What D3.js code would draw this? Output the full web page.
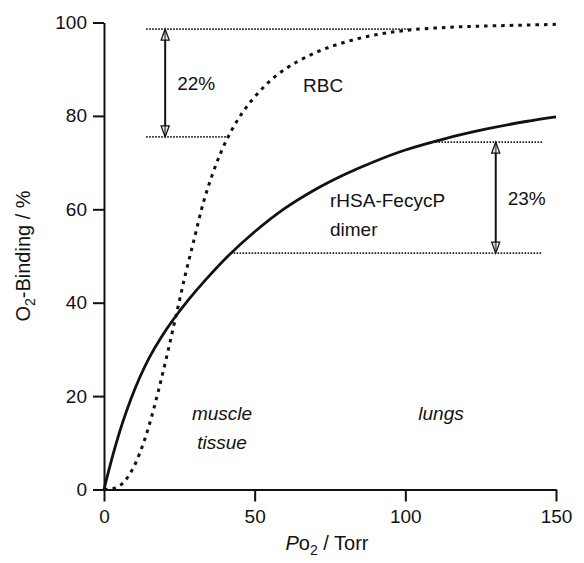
<!DOCTYPE html>
<html>
<head>
<meta charset="utf-8">
<script src="https://cdn.jsdelivr.net/npm/d3@7"></script>
<style>
  body { margin: 0; background: #fff; }
  svg text { font-family: "Liberation Sans", Arial, Helvetica, sans-serif; fill: #111; }
</style>
</head>
<body>
<div id="chart"></div>
<script>
// Corbes de saturació d'O2 (llegides de la figura)
const rbcPo2 = [0, 3, 6, 9, 12, 15, 18, 21, 24, 27, 30, 33, 36, 39, 42, 45, 48, 52, 56, 62, 70, 78, 88, 100, 115, 130, 150];
const rbcSat = [0, 0.2, 1.2, 3.8, 8, 13.8, 21, 29, 37.5, 46, 53.8, 61.5, 67.5, 72.5, 76.5, 79.8, 82.5, 85.5, 88, 90.8, 93.5, 95.4, 97.1, 98.3, 99, 99.3, 99.6];

const hsaPo2 = [0, 3, 6, 9, 12, 15, 19, 23, 28, 34, 41, 50, 60, 70, 80, 90, 100, 113, 127, 140, 150];
const hsaSat = [0, 7.5, 14, 19.5, 24.2, 28.2, 32.6, 36.4, 40.6, 45.1, 49.9, 55.2, 60.2, 64.2, 67.5, 70.3, 72.7, 75.1, 77.2, 78.8, 79.8];

const xTicks = [0, 50, 100, 150];
const yTicks = [0, 20, 40, 60, 80, 100];

// línies de referència: [x0, x1, y]
const refLines = [
  [14, 102, 98.6],
  [14, 41, 75.5],
  [110, 145.5, 74.4],
  [42, 145.5, 50.6]
];
// fletxes: [x, yTop, yBottom, etiqueta]
const arrows = [
  [20.3, 98.6, 75.5, '22%'],
  [130, 74.4, 50.6, '23%']
];

const width = 584, height = 563;
const svg = d3.select('#chart').append('svg')
  .attr('width', width)
  .attr('height', height);

const x = d3.scaleLinear().domain([0, 150]).range([104, 556]);
const y = d3.scaleLinear().domain([0, 100]).range([489.5, 22.5]);

const fontSize = 19;

// Eixos
const xAxis = svg.append('g')
  .attr('transform', `translate(0,${y(0)})`)
  .call(d3.axisBottom(x).tickValues(xTicks).tickSize(12).tickSizeOuter(0).tickPadding(8));
const yAxis = svg.append('g')
  .attr('transform', `translate(${x(0)},0)`)
  .call(d3.axisLeft(y).tickValues(yTicks).tickSize(11).tickSizeOuter(0).tickPadding(6));

[xAxis, yAxis].forEach(g => {
  g.selectAll('path, line').attr('stroke', '#111').attr('stroke-width', 2);
  g.selectAll('text')
    .style('font-size', fontSize + 'px')
    .attr('fill', '#111');
});

// Línies de referència puntejades
svg.selectAll('.ref')
  .data(refLines)
  .enter()
  .append('line')
  .attr('x1', d => x(d[0]))
  .attr('x2', d => x(d[1]))
  .attr('y1', d => y(d[2]))
  .attr('y2', d => y(d[2]))
  .attr('stroke', '#222')
  .attr('stroke-width', 1.8)
  .attr('stroke-dasharray', '1.6,1.4');

// Corbes
const line = d3.line().curve(d3.curveCatmullRom.alpha(0.5));

svg.append('path')
  .attr('d', line(hsaPo2.map((p, i) => [x(p), y(hsaSat[i])])))
  .attr('fill', 'none')
  .attr('stroke', '#111')
  .attr('stroke-width', 2.8);

svg.append('path')
  .attr('d', line(rbcPo2.map((p, i) => [x(p), y(rbcSat[i])])))
  .attr('fill', 'none')
  .attr('stroke', '#111')
  .attr('stroke-width', 3)
  .attr('stroke-dasharray', '3.5,5');

// Fletxes de doble punta
arrows.forEach(a => {
  const ax = x(a[0]), yt = y(a[1]), yb = y(a[2]);
  svg.append('line')
    .attr('x1', ax).attr('x2', ax)
    .attr('y1', yt + 2).attr('y2', yb - 2)
    .attr('stroke', '#111')
    .attr('stroke-width', 2);
  const hw = 4, hl = 11;
  svg.append('path')
    .attr('d', `M${ax},${yt} L${ax - hw},${yt + hl} L${ax + hw},${yt + hl} Z`)
    .attr('fill', '#fff').attr('fill-opacity', 0.4)
    .attr('stroke', '#111').attr('stroke-width', 1.3);
  svg.append('path')
    .attr('d', `M${ax},${yb} L${ax - hw},${yb - hl} L${ax + hw},${yb - hl} Z`)
    .attr('fill', '#fff').attr('fill-opacity', 0.4)
    .attr('stroke', '#111').attr('stroke-width', 1.3);
  svg.append('text')
    .attr('x', ax + 12)
    .attr('y', (yt + yb) / 2 + 7)
    .style('font-size', fontSize + 'px')
    .text(a[3]);
});

// Etiquetes de text
svg.append('text').attr('x', 303).attr('y', 92).style('font-size', fontSize + 'px').text('RBC');
svg.append('text').attr('x', 330).attr('y', 207).style('font-size', fontSize + 'px').text('rHSA-FecycP');
svg.append('text').attr('x', 330).attr('y', 236).style('font-size', fontSize + 'px').text('dimer');

svg.append('text').attr('x', 222).attr('y', 420).attr('text-anchor', 'middle')
  .style('font-size', fontSize + 'px').style('font-style', 'italic').text('muscle');
svg.append('text').attr('x', 222).attr('y', 449).attr('text-anchor', 'middle')
  .style('font-size', fontSize + 'px').style('font-style', 'italic').text('tissue');
svg.append('text').attr('x', 441).attr('y', 420).attr('text-anchor', 'middle')
  .style('font-size', fontSize + 'px').style('font-style', 'italic').text('lungs');

// Títols dels eixos
const xLabel = svg.append('text')
  .attr('x', 327).attr('y', 550)
  .attr('text-anchor', 'middle')
  .style('font-size', '20px');
xLabel.append('tspan').style('font-style', 'italic').text('P');
xLabel.append('tspan').text('o');
xLabel.append('tspan').attr('dy', 5).style('font-size', '14px').text('2');
xLabel.append('tspan').attr('dy', -5).text(' / Torr');

const yLabel = svg.append('text')
  .attr('transform', 'translate(30,256) rotate(-90)')
  .attr('text-anchor', 'middle')
  .style('font-size', '20px');
yLabel.append('tspan').text('O');
yLabel.append('tspan').attr('dy', 5).style('font-size', '14px').text('2');
yLabel.append('tspan').attr('dy', -5).text('-Binding / %');
</script>
</body>
</html>
